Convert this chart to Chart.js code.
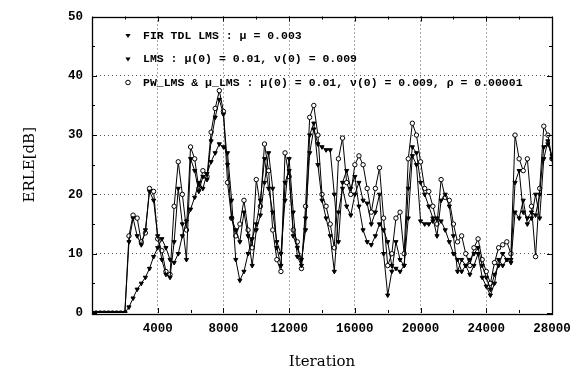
<!DOCTYPE html>
<html>
<head>
<meta charset="utf-8">
<script src="https://cdn.jsdelivr.net/npm/chart.js@4.4.0/dist/chart.umd.min.js"></script>
<style>
  html, body { margin: 0; padding: 0; background: #fff; }
</style>
</head>
<body>
<canvas id="erleChart" width="587" height="379"></canvas>
<script>
const iterations = [
    0, 250, 500, 750, 1000, 1250, 1500, 1750, 2000, 2250, 2500, 2750, 3000, 3250, 3500, 3750,
    4000, 4250, 4500, 4750, 5000, 5250, 5500, 5750, 6000, 6250, 6500, 6750, 7000, 7250, 7500, 7750,
    8000, 8250, 8500, 8750, 9000, 9250, 9500, 9750, 10000, 10250, 10500, 10750, 11000, 11250, 11500, 11750,
    12000, 12250, 12500, 12750, 13000, 13250, 13500, 13750, 14000, 14250, 14500, 14750, 15000, 15250, 15500, 15750,
    16000, 16250, 16500, 16750, 17000, 17250, 17500, 17750, 18000, 18250, 18500, 18750, 19000, 19250, 19500, 19750,
    20000, 20250, 20500, 20750, 21000, 21250, 21500, 21750, 22000, 22250, 22500, 22750, 23000, 23250, 23500, 23750,
    24000, 24250, 24500, 24750, 25000, 25250, 25500, 25750, 26000, 26250, 26500, 26750, 27000, 27250, 27500, 27750,
    28000
];

const firTdlLms = [
    0, 0, 0, 0, 0, 0, 0, 0, 0, 12, 16, 13, 11.5, 14, 20.5, 19,
    13, 9, 6.5, 6, 12, 21, 15, 9, 26, 24, 20.5, 23, 22.5, 29, 33, 36,
    33.5, 25, 16, 14, 12, 17, 13, 8, 14, 16.5, 22, 27, 21, 11, 8, 22,
    24, 13, 11, 9, 14, 30, 32, 25, 19, 16, 13, 7, 17, 21, 18, 16.5,
    20, 22, 19, 18.5, 15, 17, 20, 10, 3, 7, 12, 9, 8, 21, 28, 27,
    22, 20, 18, 16, 13, 19, 20, 18, 13, 7, 9, 8, 6.5, 8, 10, 6,
    4.5, 3, 5, 9, 8, 9, 8.5, 17, 16, 19, 15, 16, 20, 16, 26, 29,
    26
];

const lms = [
    0, 0, 0, 0, 0, 0, 0, 0, 0, 1, 2.5, 4, 5, 6, 7.5, 9.5,
    11, 12.5, 11, 9, 8.5, 10, 13, 15.5, 17.5, 19.5, 22, 21, 23.5, 25.5, 27, 28.5,
    28, 27, 19, 9, 5.5, 7, 10, 12.5, 15, 19, 26, 21, 17, 12, 10, 19,
    26, 17, 9.5, 8, 16, 27, 31, 28.5, 28, 27.5, 27.5, 20, 12, 22, 24, 21,
    23, 18, 14, 12, 11.5, 13, 15, 14, 12, 8, 7.5, 7, 8, 16, 26.5, 25,
    15.5, 15, 15, 15.5, 16, 15.5, 14, 12, 10, 9, 7, 8, 9, 10, 11, 8,
    6, 4, 6.5, 8, 10, 9, 9, 22, 24, 17, 16, 17, 16.5, 20, 28, 28.5,
    26.5
];

const pwLms = [
    0, 0, 0, 0, 0, 0, 0, 0, 0, 13, 16.5, 16, 12, 13.5, 21, 20.5,
    12.5, 10.5, 7, 6.5, 18, 25.5, 20, 14, 28, 26, 21, 24, 23, 30.5, 34.5, 37.5,
    34, 22, 16, 13, 15, 19, 14, 11, 22.5, 18, 28.5, 24, 14, 9, 7, 27,
    23, 14, 12, 7.5, 18, 33, 35, 30, 20, 18, 15, 11, 26, 29.5, 22, 20,
    25, 26.5, 25, 21, 17, 21, 24.5, 16, 8, 10, 16, 17, 10, 26, 32, 30,
    25.5, 21, 20.5, 18, 15, 22.5, 19.5, 19, 15, 12, 13, 10, 8, 11, 12.5, 9,
    7, 5, 8.5, 11, 11.5, 12, 10, 30, 26, 24, 26, 18, 9.5, 21, 31.5, 30,
    26
];

const seriesLabels = [
    'FIR TDL LMS : \u03bc = 0.003',
    'LMS : \u03bc(0) = 0.01, \u03bd(0) = 0.009',
    'PW_LMS & \u03bc_LMS : \u03bc(0) = 0.01, \u03bd(0) = 0.009, \u03c1 = 0.00001'
];

const xTitle = 'Iteration';
const yTitle = 'ERLE[dB]';

const toPoints = vals => vals.map((v, i) => ({ x: iterations[i], y: v }));

const tickFont = { family: 'Liberation Mono', size: 12.5, weight: 'bold' };
const titleFont = { family: 'DejaVu Serif', size: 15 };

// small inward tick marks on all four sides plus the frame
const frameTicks = {
    id: 'frameTicks',
    afterDatasetsDraw(chart) {
        const { ctx, chartArea: a, scales: { x, y } } = chart;
        ctx.save();
        ctx.strokeStyle = '#000';
        ctx.lineWidth = 1;
        ctx.beginPath();
        x.ticks.forEach(t => {
            const px = Math.round(x.getPixelForValue(t.value)) + 0.5;
            const len = t.value % 4000 === 0 ? 5 : 3;
            ctx.moveTo(px, a.bottom); ctx.lineTo(px, a.bottom - len);
            ctx.moveTo(px, a.top); ctx.lineTo(px, a.top + len);
        });
        y.ticks.forEach(t => {
            const py = Math.round(y.getPixelForValue(t.value)) + 0.5;
            const len = t.value % 10 === 0 ? 5 : 3;
            ctx.moveTo(a.left, py); ctx.lineTo(a.left + len, py);
            ctx.moveTo(a.right, py); ctx.lineTo(a.right - len, py);
        });
        ctx.stroke();
        ctx.lineWidth = 1.3;
        ctx.strokeRect(Math.round(a.left) + 0.5, Math.round(a.top) + 0.5,
            Math.round(a.right - a.left), Math.round(a.bottom - a.top));
        ctx.restore();
    }
};

// legend inside the plot, upper left
const insideLegend = {
    id: 'insideLegend',
    afterDraw(chart) {
        const { ctx, chartArea: a } = chart;
        ctx.save();
        ctx.font = 'bold 11.5px "Liberation Mono"';
        ctx.textBaseline = 'middle';
        ctx.fillStyle = '#000';
        ctx.strokeStyle = '#000';
        ctx.lineWidth = 1;
        chart.data.datasets.forEach((ds, i) => {
            const mx = a.left + 36;
            const my = a.top + 19 + i * 23.5;
            ctx.beginPath();
            if (ds.pointStyle === 'circle') {
                ctx.arc(mx, my, 2.3, 0, Math.PI * 2);
                ctx.fillStyle = '#fff';
                ctx.fill();
                ctx.stroke();
                ctx.fillStyle = '#000';
            } else {
                ctx.moveTo(mx - 2.6, my - 1.6);
                ctx.lineTo(mx + 2.6, my - 1.6);
                ctx.lineTo(mx, my + 2.6);
                ctx.closePath();
                ctx.fill();
            }
            ctx.fillText(ds.label, a.left + 51, my + 0.5);
        });
        ctx.restore();
    }
};

const commonLine = {
    borderColor: '#000',
    borderWidth: 1,
    pointBorderColor: '#000',
    pointBorderWidth: 1,
    tension: 0,
    fill: false
};

new Chart(document.getElementById('erleChart').getContext('2d'), {
    type: 'line',
    data: {
        datasets: [
            Object.assign({
                label: seriesLabels[0],
                data: toPoints(firTdlLms),
                pointStyle: 'triangle',
                rotation: 180,
                pointRadius: 2.4,
                pointBackgroundColor: '#000'
            }, commonLine),
            Object.assign({
                label: seriesLabels[1],
                data: toPoints(lms),
                pointStyle: 'triangle',
                rotation: 180,
                pointRadius: 2.4,
                pointBackgroundColor: '#000'
            }, commonLine),
            Object.assign({
                label: seriesLabels[2],
                data: toPoints(pwLms),
                pointStyle: 'circle',
                pointRadius: 2.2,
                pointBackgroundColor: '#fff'
            }, commonLine)
        ]
    },
    options: {
        responsive: false,
        animation: false,
        layout: { padding: { top: 14, right: 35, bottom: 0, left: 0 } },
        plugins: {
            legend: { display: false },
            tooltip: { enabled: false }
        },
        scales: {
            x: {
                type: 'linear',
                min: 0,
                max: 28000,
                afterFit: s => { s.height = 66; },
                ticks: {
                    stepSize: 2000,
                    autoSkip: false,
                    maxRotation: 0,
                    padding: 8,
                    color: '#000',
                    font: tickFont,
                    callback: v => (v !== 0 && v % 4000 === 0) ? String(v) : ''
                },
                grid: {
                    drawTicks: false,
                    color: c => (c.tick && c.tick.value % 4000 === 0 && c.tick.value > 0 && c.tick.value < 28000) ? '#555' : 'rgba(0,0,0,0)',
                    lineWidth: 1
                },
                border: { display: false, dash: [1, 3] },
                title: { display: true, text: xTitle, color: '#000', font: titleFont, padding: { top: 0, bottom: 8 } }
            },
            y: {
                type: 'linear',
                min: 0,
                max: 50,
                afterFit: s => { s.width = 92; },
                ticks: {
                    stepSize: 5,
                    padding: 9,
                    color: '#000',
                    font: tickFont,
                    callback: v => v % 10 === 0 ? String(v) : ''
                },
                grid: {
                    drawTicks: false,
                    color: c => (c.tick && c.tick.value % 10 === 0 && c.tick.value > 0 && c.tick.value < 50) ? '#555' : 'rgba(0,0,0,0)',
                    lineWidth: 1
                },
                border: { display: false, dash: [1, 3] },
                title: { display: true, text: yTitle, color: '#000', font: titleFont, padding: { top: 21, bottom: 0 } }
            }
        }
    },
    plugins: [frameTicks, insideLegend]
});
</script>
</body>
</html>
